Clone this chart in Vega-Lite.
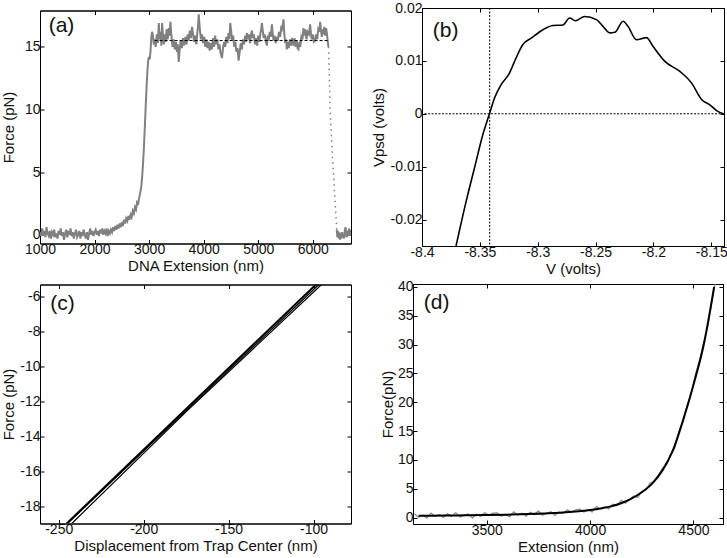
{
"$schema": "https://vega.github.io/schema/vega-lite/v6.json",
"background": "white",
"padding": {"left": 0, "top": 0, "right": 0, "bottom": 0},
"config": {
  "font": "Liberation Sans",
  "locale": {"number": {"decimal": ".", "thousands": ",", "grouping": [3], "currency": ["$", ""], "minus": "-"}},
  "view": {"stroke": "black", "strokeWidth": 1},
  "axis": {"grid": false, "domainColor": "black", "tickColor": "black", "tickSize": -4, "labelFontSize": 14, "titleFontSize": 15, "labelColor": "#111", "titleColor": "#111", "titleFontWeight": "normal", "labelPadding": 3, "titlePadding": 1, "labelFlush": false, "labelOverlap": false},
  "axisX": {"titlePadding": 2},
  "axisY": {"labelPadding": 4},
  "text": {"font": "Liberation Sans"}
},
"datasets": {
  "a_trace": [
{"x":1000,"y":0.2},{"x":1020,"y":-0.1},{"x":1040,"y":0.5},{"x":1060,"y":0.0},{"x":1080,"y":0.3},{"x":1100,"y":-0.2},{"x":1120,"y":0.6},{"x":1140,"y":0.1},{"x":1160,"y":-0.1},{"x":1180,"y":0.3},{"x":1200,"y":-0.3},{"x":1220,"y":0.2},{"x":1240,"y":0.0},{"x":1260,"y":0.4},{"x":1280,"y":-0.2},{"x":1300,"y":0.1},{"x":1320,"y":-0.3},{"x":1340,"y":0.3},{"x":1360,"y":0.0},{"x":1380,"y":0.5},{"x":1400,"y":-0.1},{"x":1420,"y":0.2},{"x":1440,"y":-0.4},{"x":1460,"y":0.1},{"x":1480,"y":0.4},{"x":1500,"y":-0.2},{"x":1520,"y":0.3},{"x":1540,"y":0.0},{"x":1560,"y":0.5},{"x":1580,"y":-0.1},{"x":1600,"y":0.2},{"x":1620,"y":-0.3},{"x":1640,"y":0.1},{"x":1660,"y":0.4},{"x":1680,"y":-0.2},{"x":1700,"y":0.0},{"x":1720,"y":0.3},{"x":1740,"y":-0.3},{"x":1760,"y":0.2},{"x":1780,"y":-0.1},{"x":1800,"y":0.4},{"x":1820,"y":0.0},{"x":1840,"y":-0.3},{"x":1860,"y":0.2},{"x":1880,"y":-0.4},{"x":1900,"y":0.1},{"x":1920,"y":0.5},{"x":1940,"y":0.0},{"x":1960,"y":0.3},{"x":1980,"y":-0.1},{"x":2000,"y":0.2},{"x":2020,"y":0.4},{"x":2040,"y":0.0},{"x":2060,"y":0.3},{"x":2080,"y":-0.1},{"x":2100,"y":0.4},{"x":2120,"y":0.1},{"x":2140,"y":0.5},{"x":2160,"y":0.0},{"x":2180,"y":0.3},{"x":2200,"y":0.1},{"x":2220,"y":0.5},{"x":2240,"y":-0.1},{"x":2260,"y":0.3},{"x":2280,"y":0.1},{"x":2300,"y":0.4},{"x":2320,"y":0.2},{"x":2340,"y":0.6},{"x":2360,"y":0.3},{"x":2380,"y":0.7},{"x":2400,"y":0.4},{"x":2420,"y":0.8},{"x":2440,"y":0.5},{"x":2460,"y":0.9},{"x":2480,"y":0.6},{"x":2500,"y":1.0},{"x":2520,"y":0.7},{"x":2540,"y":1.2},{"x":2560,"y":0.9},{"x":2580,"y":1.3},{"x":2600,"y":1.1},{"x":2620,"y":1.5},{"x":2640,"y":1.2},{"x":2660,"y":1.6},{"x":2680,"y":1.4},{"x":2700,"y":1.9},{"x":2720,"y":1.7},{"x":2740,"y":2.2},{"x":2760,"y":2.0},{"x":2780,"y":2.6},{"x":2800,"y":2.5},{"x":2820,"y":3.0},{"x":2840,"y":3.4},{"x":2860,"y":4.0},{"x":2875,"y":4.8},{"x":2890,"y":5.8},{"x":2905,"y":7.0},{"x":2920,"y":8.5},{"x":2935,"y":10.0},{"x":2950,"y":11.5},{"x":2965,"y":12.8},{"x":2980,"y":13.8},{"x":2995,"y":14.2},{"x":3010,"y":14.0},{"x":3025,"y":14.6},{"x":3040,"y":15.8},{"x":3055,"y":16.2},{"x":3070,"y":15.9},{"x":3085,"y":15.2},{"x":3100,"y":15.6},{"x":3120,"y":15.0},{"x":3140,"y":16.0},{"x":3160,"y":15.3},{"x":3177,"y":16.9},{"x":3195,"y":15.6},{"x":3210,"y":16.2},{"x":3225,"y":15.1},{"x":3238,"y":16.9},{"x":3255,"y":15.8},{"x":3270,"y":15.2},{"x":3290,"y":16.0},{"x":3305,"y":15.4},{"x":3320,"y":16.4},{"x":3340,"y":15.6},{"x":3360,"y":16.5},{"x":3375,"y":15.9},{"x":3390,"y":17.0},{"x":3410,"y":15.8},{"x":3430,"y":15.0},{"x":3450,"y":15.6},{"x":3470,"y":14.8},{"x":3490,"y":15.4},{"x":3510,"y":14.6},{"x":3525,"y":15.2},{"x":3543,"y":13.8},{"x":3560,"y":14.8},{"x":3580,"y":15.5},{"x":3600,"y":14.9},{"x":3620,"y":15.7},{"x":3640,"y":15.1},{"x":3665,"y":15.8},{"x":3685,"y":15.2},{"x":3705,"y":16.0},{"x":3725,"y":15.5},{"x":3745,"y":16.3},{"x":3765,"y":15.7},{"x":3787,"y":16.6},{"x":3805,"y":16.0},{"x":3825,"y":15.4},{"x":3845,"y":15.9},{"x":3865,"y":15.2},{"x":3885,"y":16.2},{"x":3900,"y":16.8},{"x":3909,"y":17.6},{"x":3920,"y":16.9},{"x":3935,"y":16.2},{"x":3950,"y":15.6},{"x":3970,"y":16.0},{"x":3990,"y":15.3},{"x":4010,"y":15.8},{"x":4030,"y":15.0},{"x":4050,"y":15.6},{"x":4070,"y":14.9},{"x":4090,"y":15.4},{"x":4110,"y":14.7},{"x":4130,"y":15.3},{"x":4150,"y":14.8},{"x":4170,"y":15.7},{"x":4190,"y":15.0},{"x":4210,"y":15.9},{"x":4230,"y":15.2},{"x":4250,"y":15.6},{"x":4270,"y":14.8},{"x":4290,"y":15.2},{"x":4310,"y":14.5},{"x":4335,"y":14.1},{"x":4355,"y":14.9},{"x":4375,"y":15.4},{"x":4395,"y":15.0},{"x":4415,"y":15.8},{"x":4435,"y":15.3},{"x":4455,"y":16.1},{"x":4470,"y":15.6},{"x":4488,"y":16.9},{"x":4505,"y":16.2},{"x":4520,"y":15.5},{"x":4540,"y":15.9},{"x":4560,"y":15.0},{"x":4580,"y":15.4},{"x":4600,"y":14.6},{"x":4620,"y":14.9},{"x":4640,"y":13.9},{"x":4660,"y":14.6},{"x":4680,"y":15.3},{"x":4700,"y":14.8},{"x":4720,"y":15.6},{"x":4740,"y":15.2},{"x":4760,"y":15.9},{"x":4775,"y":15.4},{"x":4793,"y":16.1},{"x":4810,"y":15.6},{"x":4830,"y":16.0},{"x":4850,"y":15.3},{"x":4865,"y":15.9},{"x":4884,"y":16.3},{"x":4900,"y":15.7},{"x":4920,"y":16.0},{"x":4940,"y":15.2},{"x":4960,"y":15.7},{"x":4980,"y":15.1},{"x":5000,"y":15.9},{"x":5020,"y":15.4},{"x":5040,"y":16.1},{"x":5055,"y":16.4},{"x":5067,"y":16.9},{"x":5085,"y":16.2},{"x":5100,"y":15.7},{"x":5120,"y":16.0},{"x":5140,"y":15.4},{"x":5159,"y":15.1},{"x":5175,"y":15.9},{"x":5190,"y":15.5},{"x":5210,"y":16.2},{"x":5230,"y":15.8},{"x":5250,"y":16.8},{"x":5265,"y":16.1},{"x":5280,"y":15.5},{"x":5300,"y":15.9},{"x":5320,"y":15.3},{"x":5340,"y":15.8},{"x":5360,"y":15.5},{"x":5380,"y":16.2},{"x":5400,"y":15.8},{"x":5420,"y":16.5},{"x":5433,"y":16.4},{"x":5450,"y":16.8},{"x":5463,"y":17.2},{"x":5478,"y":16.0},{"x":5495,"y":15.3},{"x":5510,"y":15.6},{"x":5524,"y":14.8},{"x":5540,"y":15.4},{"x":5560,"y":14.9},{"x":5580,"y":15.6},{"x":5600,"y":15.1},{"x":5620,"y":15.7},{"x":5646,"y":15.1},{"x":5665,"y":15.7},{"x":5685,"y":15.0},{"x":5705,"y":15.5},{"x":5720,"y":14.9},{"x":5738,"y":14.8},{"x":5755,"y":15.4},{"x":5770,"y":15.0},{"x":5790,"y":15.8},{"x":5810,"y":15.6},{"x":5829,"y":16.5},{"x":5845,"y":15.9},{"x":5865,"y":16.4},{"x":5885,"y":15.6},{"x":5905,"y":16.2},{"x":5930,"y":16.0},{"x":5951,"y":16.8},{"x":5965,"y":16.1},{"x":5980,"y":15.6},{"x":6000,"y":16.0},{"x":6020,"y":15.4},{"x":6043,"y":15.5},{"x":6060,"y":16.0},{"x":6080,"y":15.6},{"x":6100,"y":16.4},{"x":6120,"y":16.2},{"x":6134,"y":17.0},{"x":6150,"y":16.3},{"x":6165,"y":15.8},{"x":6180,"y":16.4},{"x":6195,"y":16.0},{"x":6210,"y":16.6},{"x":6225,"y":15.9},{"x":6244,"y":16.5},{"x":6260,"y":16.0},{"x":6275,"y":15.4},{"x":6287,"y":15.0}
  ],
  "a_drop": [
{"x":6287,"y":15.0},{"x":6300,"y":13.2},{"x":6317,"y":10.0},{"x":6335,"y":8.4},{"x":6355,"y":6.6},{"x":6378,"y":5.0},{"x":6395,"y":3.6},{"x":6409,"y":2.6},{"x":6425,"y":1.4},{"x":6439,"y":0.4}
  ],
  "a_tail": [
{"x":6439,"y":0.4},{"x":6450,"y":-0.2},{"x":6462,"y":0.3},{"x":6475,"y":-0.3},{"x":6488,"y":0.2},{"x":6500,"y":-0.4},{"x":6512,"y":0.1},{"x":6525,"y":-0.3},{"x":6538,"y":0.2},{"x":6550,"y":-0.2},{"x":6562,"y":0.0},{"x":6575,"y":-0.3},{"x":6588,"y":0.4},{"x":6600,"y":0.6},{"x":6612,"y":0.1},{"x":6625,"y":-0.2},{"x":6638,"y":0.3},{"x":6650,"y":-0.1},{"x":6662,"y":0.5},{"x":6675,"y":0.0},{"x":6688,"y":0.4},{"x":6700,"y":0.1}
  ],
  "a_fit": [{"x":3100,"y":15.5},{"x":6290,"y":15.5}],
  "b_curve": [
{"x":-8.3706,"y":-0.025},{"x":-8.3619,"y":-0.0166},{"x":-8.3547,"y":-0.0103},{"x":-8.3475,"y":-0.004},{"x":-8.3417,"y":0},{"x":-8.3373,"y":0.003},{"x":-8.3316,"y":0.0055},{"x":-8.3244,"y":0.0077},{"x":-8.32,"y":0.0099},{"x":-8.3128,"y":0.0131},{"x":-8.3056,"y":0.0143},{"x":-8.2955,"y":0.0159},{"x":-8.2868,"y":0.0167},{"x":-8.2782,"y":0.0168},{"x":-8.2724,"y":0.0181},{"x":-8.2675,"y":0.0176},{"x":-8.2594,"y":0.0184},{"x":-8.2493,"y":0.0178},{"x":-8.2435,"y":0.0165},{"x":-8.2378,"y":0.0153},{"x":-8.2334,"y":0.0154},{"x":-8.2262,"y":0.0175},{"x":-8.2219,"y":0.0165},{"x":-8.2147,"y":0.014},{"x":-8.206,"y":0.0144},{"x":-8.2002,"y":0.0127},{"x":-8.1901,"y":0.0099},{"x":-8.1771,"y":0.008},{"x":-8.167,"y":0.0058},{"x":-8.1584,"y":0.0027},{"x":-8.1512,"y":0.0017},{"x":-8.144,"y":0.0004},{"x":-8.1396,"y":0}
  ],
  "c1": [{"x":-245.3,"y":-19},{"x":-98.6,"y":-5.3}],
  "c2": [{"x":-244.8,"y":-19},{"x":-96.9,"y":-5.3}],
  "c3": [{"x":-242.3,"y":-19},{"x":-174,"y":-12.5},{"x":-95.3,"y":-5.3}],
  "d_data": [
{"x":3150,"y":0.65},{"x":3170,"y":0.06},{"x":3190,"y":0.42},{"x":3210,"y":-0.08},{"x":3230,"y":0.78},{"x":3250,"y":0.24},{"x":3270,"y":0.55},{"x":3290,"y":0.01},{"x":3310,"y":0.66},{"x":3330,"y":0.22},{"x":3350,"y":0.88},{"x":3370,"y":0.09},{"x":3390,"y":0.40},{"x":3410,"y":0.65},{"x":3430,"y":-0.03},{"x":3450,"y":0.58},{"x":3470,"y":0.24},{"x":3490,"y":0.85},{"x":3510,"y":0.41},{"x":3530,"y":0.77},{"x":3550,"y":0.83},{"x":3570,"y":0.25},{"x":3590,"y":0.61},{"x":3610,"y":0.13},{"x":3630,"y":1.00},{"x":3650,"y":0.47},{"x":3670,"y":0.79},{"x":3690,"y":0.26},{"x":3710,"y":0.93},{"x":3730,"y":0.51},{"x":3750,"y":1.19},{"x":3770,"y":0.42},{"x":3790,"y":0.75},{"x":3810,"y":1.03},{"x":3830,"y":0.37},{"x":3850,"y":1.01},{"x":3870,"y":0.71},{"x":3890,"y":1.36},{"x":3910,"y":0.96},{"x":3930,"y":1.37},{"x":3950,"y":1.49},{"x":3970,"y":0.96},{"x":3990,"y":1.39},{"x":4010,"y":0.97},{"x":4030,"y":1.92},{"x":4050,"y":1.48},{"x":4070,"y":1.91},{"x":4090,"y":1.52},{"x":4110,"y":2.34},{"x":4130,"y":2.10},{"x":4150,"y":3.0},{"x":4170,"y":2.5},{"x":4190,"y":3.1},{"x":4210,"y":3.75},{"x":4230,"y":3.5},{"x":4250,"y":4.55},{"x":4270,"y":4.8},{"x":4290,"y":6.0},{"x":4310,"y":6.25},{"x":4330,"y":7.4},{"x":4350,"y":8.55},{"x":4370,"y":9.15},{"x":4390,"y":10.9},{"x":4410,"y":12.1},{"x":4430,"y":14.95},{"x":4450,"y":16.8},{"x":4470,"y":19.6},{"x":4490,"y":21.65},{"x":4510,"y":24.9},{"x":4530,"y":27.35},{"x":4550,"y":30.5},{"x":4570,"y":33.2},{"x":4590,"y":37.5},{"x":4605,"y":40.5}
  ],
  "d_fit": [
{"x":3170,"y":0.31},{"x":3300,"y":0.36},{"x":3400,"y":0.40},{"x":3500,"y":0.45},{"x":3600,"y":0.52},{"x":3700,"y":0.62},{"x":3800,"y":0.76},{"x":3900,"y":0.98},{"x":4000,"y":1.32},{"x":4050,"y":1.58},{"x":4100,"y":1.95},{"x":4150,"y":2.5},{"x":4200,"y":3.3},{"x":4250,"y":4.4},{"x":4300,"y":5.9},{"x":4350,"y":8.2},{"x":4400,"y":11.6},{"x":4450,"y":16.9},{"x":4500,"y":23.0},{"x":4550,"y":30.0},{"x":4600,"y":40.0}
  ]
},
"spacing": 2,
"vconcat": [
 {
  "spacing": 71, "center": true, "bounds": "flush",
  "hconcat": [
   {
    "width": 311, "height": 233,
    "resolve": {"axis": {"x": "independent", "y": "independent"}},
    "layer": [
     {"data": {"name": "a_trace"}, "mark": {"type": "line", "color": "#808080", "strokeWidth": 2, "clip": true},
      "encoding": {
       "x": {"field": "x", "type": "quantitative", "scale": {"domain": [1000, 6700], "nice": false, "zero": false}, "axis": {"title": "DNA Extension (nm)", "values": [1000, 2000, 3000, 4000, 5000, 6000], "format": "d"}},
       "y": {"field": "y", "type": "quantitative", "scale": {"domain": [-0.7, 17.9], "nice": false, "zero": false}, "axis": {"title": "Force (pN)", "values": [0, 5, 10, 15], "minExtent": 24, "maxExtent": 24, "titlePadding": 0}}}},
     {"data": {"name": "a_tail"}, "mark": {"type": "line", "color": "#808080", "strokeWidth": 2, "clip": true},
      "encoding": {"x": {"field": "x", "type": "quantitative", "axis": null}, "y": {"field": "y", "type": "quantitative", "axis": null}}},
     {"data": {"name": "a_drop"}, "mark": {"type": "line", "color": "#808080", "strokeWidth": 1.5, "strokeDash": [1.5, 4], "clip": true},
      "encoding": {"x": {"field": "x", "type": "quantitative", "axis": null}, "y": {"field": "y", "type": "quantitative", "axis": null}}},
     {"data": {"name": "a_fit"}, "mark": {"type": "line", "color": "black", "strokeWidth": 1, "strokeDash": [3, 2]},
      "encoding": {"x": {"field": "x", "type": "quantitative", "axis": {"orient": "top", "labels": false, "title": null, "values": [1000, 2000, 3000, 4000, 5000, 6000]}},
                   "y": {"field": "y", "type": "quantitative", "axis": {"orient": "right", "labels": false, "title": null, "values": [0, 5, 10, 15]}}}},
     {"data": {"values": [{"x": 1159, "y": 16.7, "label": "(a)"}]}, "mark": {"type": "text", "fontSize": 21, "align": "left", "baseline": "middle", "color": "#111"},
      "encoding": {"x": {"field": "x", "type": "quantitative", "axis": null}, "y": {"field": "y", "type": "quantitative", "axis": null}, "text": {"field": "label"}}}
    ]
   },
   {
    "width": 302, "height": 238,
    "resolve": {"axis": {"x": "independent", "y": "independent"}},
    "layer": [
     {"data": {"values": [{"v": 0}]}, "mark": {"type": "rule", "color": "black", "strokeWidth": 1, "strokeDash": [2, 1.5]},
      "encoding": {"y": {"field": "v", "type": "quantitative", "scale": {"domain": [-0.025, 0.02], "nice": false, "zero": false}, "axis": {"title": "Vpsd (volts)", "values": [-0.02, -0.01, 0, 0.01, 0.02], "format": "~g", "titlePadding": 4}}}},
     {"data": {"values": [{"v": -8.3415}]}, "mark": {"type": "rule", "color": "black", "strokeWidth": 1, "strokeDash": [2, 1.5]},
      "encoding": {"x": {"field": "v", "type": "quantitative", "scale": {"domain": [-8.4, -8.139], "nice": false, "zero": false}, "axis": {"title": "V (volts)", "values": [-8.4, -8.35, -8.3, -8.25, -8.2, -8.15], "format": "~g"}}}},
     {"data": {"name": "b_curve"}, "mark": {"type": "line", "color": "black", "strokeWidth": 1.6, "interpolate": "monotone", "clip": true},
      "encoding": {"x": {"field": "x", "type": "quantitative", "axis": {"orient": "top", "labels": false, "title": null, "values": [-8.4, -8.35, -8.3, -8.25, -8.2, -8.15]}},
                   "y": {"field": "y", "type": "quantitative", "axis": {"orient": "right", "labels": false, "title": null, "values": [-0.02, -0.01, 0, 0.01, 0.02]}}}},
     {"data": {"values": [{"x": -8.3907, "y": 0.0156, "label": "(b)"}]}, "mark": {"type": "text", "fontSize": 21, "align": "left", "baseline": "middle", "color": "#111"},
      "encoding": {"x": {"field": "x", "type": "quantitative", "axis": null}, "y": {"field": "y", "type": "quantitative", "axis": null}, "text": {"field": "label"}}}
    ]
   }
  ]
 },
 {
  "spacing": 62, "center": true, "bounds": "flush",
  "hconcat": [
   {
    "width": 311, "height": 239,
    "resolve": {"axis": {"x": "independent", "y": "independent"}},
    "layer": [
     {"data": {"name": "c1"}, "mark": {"type": "line", "color": "black", "strokeWidth": 2, "clip": true},
      "encoding": {
       "x": {"field": "x", "type": "quantitative", "scale": {"domain": [-261, -78], "nice": false, "zero": false}, "axis": {"title": "Displacement from Trap Center (nm)", "values": [-250, -200, -150, -100]}},
       "y": {"field": "y", "type": "quantitative", "scale": {"domain": [-19, -5.3], "nice": false, "zero": false}, "axis": {"title": "Force (pN)", "values": [-18, -16, -14, -12, -10, -8, -6], "minExtent": 24, "maxExtent": 24, "titlePadding": 0}}}},
     {"data": {"name": "c2"}, "mark": {"type": "line", "color": "black", "strokeWidth": 1.2, "clip": true},
      "encoding": {"x": {"field": "x", "type": "quantitative", "axis": null}, "y": {"field": "y", "type": "quantitative", "axis": null}}},
     {"data": {"name": "c3"}, "mark": {"type": "line", "color": "black", "strokeWidth": 1.2, "clip": true},
      "encoding": {"x": {"field": "x", "type": "quantitative", "axis": {"orient": "top", "labels": false, "title": null, "values": [-250, -200, -150, -100]}},
                   "y": {"field": "y", "type": "quantitative", "axis": {"orient": "right", "labels": false, "title": null, "values": [-18, -16, -14, -12, -10, -8, -6]}}}},
     {"data": {"values": [{"x": -254.9, "y": -6.44, "label": "(c)"}]}, "mark": {"type": "text", "fontSize": 21, "align": "left", "baseline": "middle", "color": "#111"},
      "encoding": {"x": {"field": "x", "type": "quantitative", "axis": null}, "y": {"field": "y", "type": "quantitative", "axis": null}, "text": {"field": "label"}}}
    ]
   },
   {
    "width": 310, "height": 240,
    "resolve": {"axis": {"x": "independent", "y": "independent"}},
    "layer": [
     {"data": {"name": "d_data"}, "mark": {"type": "line", "color": "#8a8a8a", "strokeWidth": 1.2, "clip": true},
      "encoding": {
       "x": {"field": "x", "type": "quantitative", "scale": {"domain": [3143, 4643], "nice": false, "zero": false}, "axis": {"title": "Extension (nm)", "values": [3500, 4000, 4500], "format": "d"}},
       "y": {"field": "y", "type": "quantitative", "scale": {"domain": [-1.1, 40.5], "nice": false, "zero": false}, "axis": {"title": "Force(pN)", "values": [0, 5, 10, 15, 20, 25, 30, 35, 40], "titlePadding": 2}}}},
     {"data": {"name": "d_fit"}, "mark": {"type": "line", "color": "black", "strokeWidth": 2, "interpolate": "monotone", "clip": true},
      "encoding": {"x": {"field": "x", "type": "quantitative", "axis": {"orient": "top", "labels": false, "title": null, "values": [3500, 4000, 4500]}},
                   "y": {"field": "y", "type": "quantitative", "axis": {"orient": "right", "labels": false, "title": null, "values": [0, 5, 10, 15, 20, 25, 30, 35, 40]}}}},
     {"data": {"values": [{"x": 3195, "y": 37.2, "label": "(d)"}]}, "mark": {"type": "text", "fontSize": 21, "align": "left", "baseline": "middle", "color": "#111"},
      "encoding": {"x": {"field": "x", "type": "quantitative", "axis": null}, "y": {"field": "y", "type": "quantitative", "axis": null}, "text": {"field": "label"}}}
    ]
   }
  ]
 }
]
}
